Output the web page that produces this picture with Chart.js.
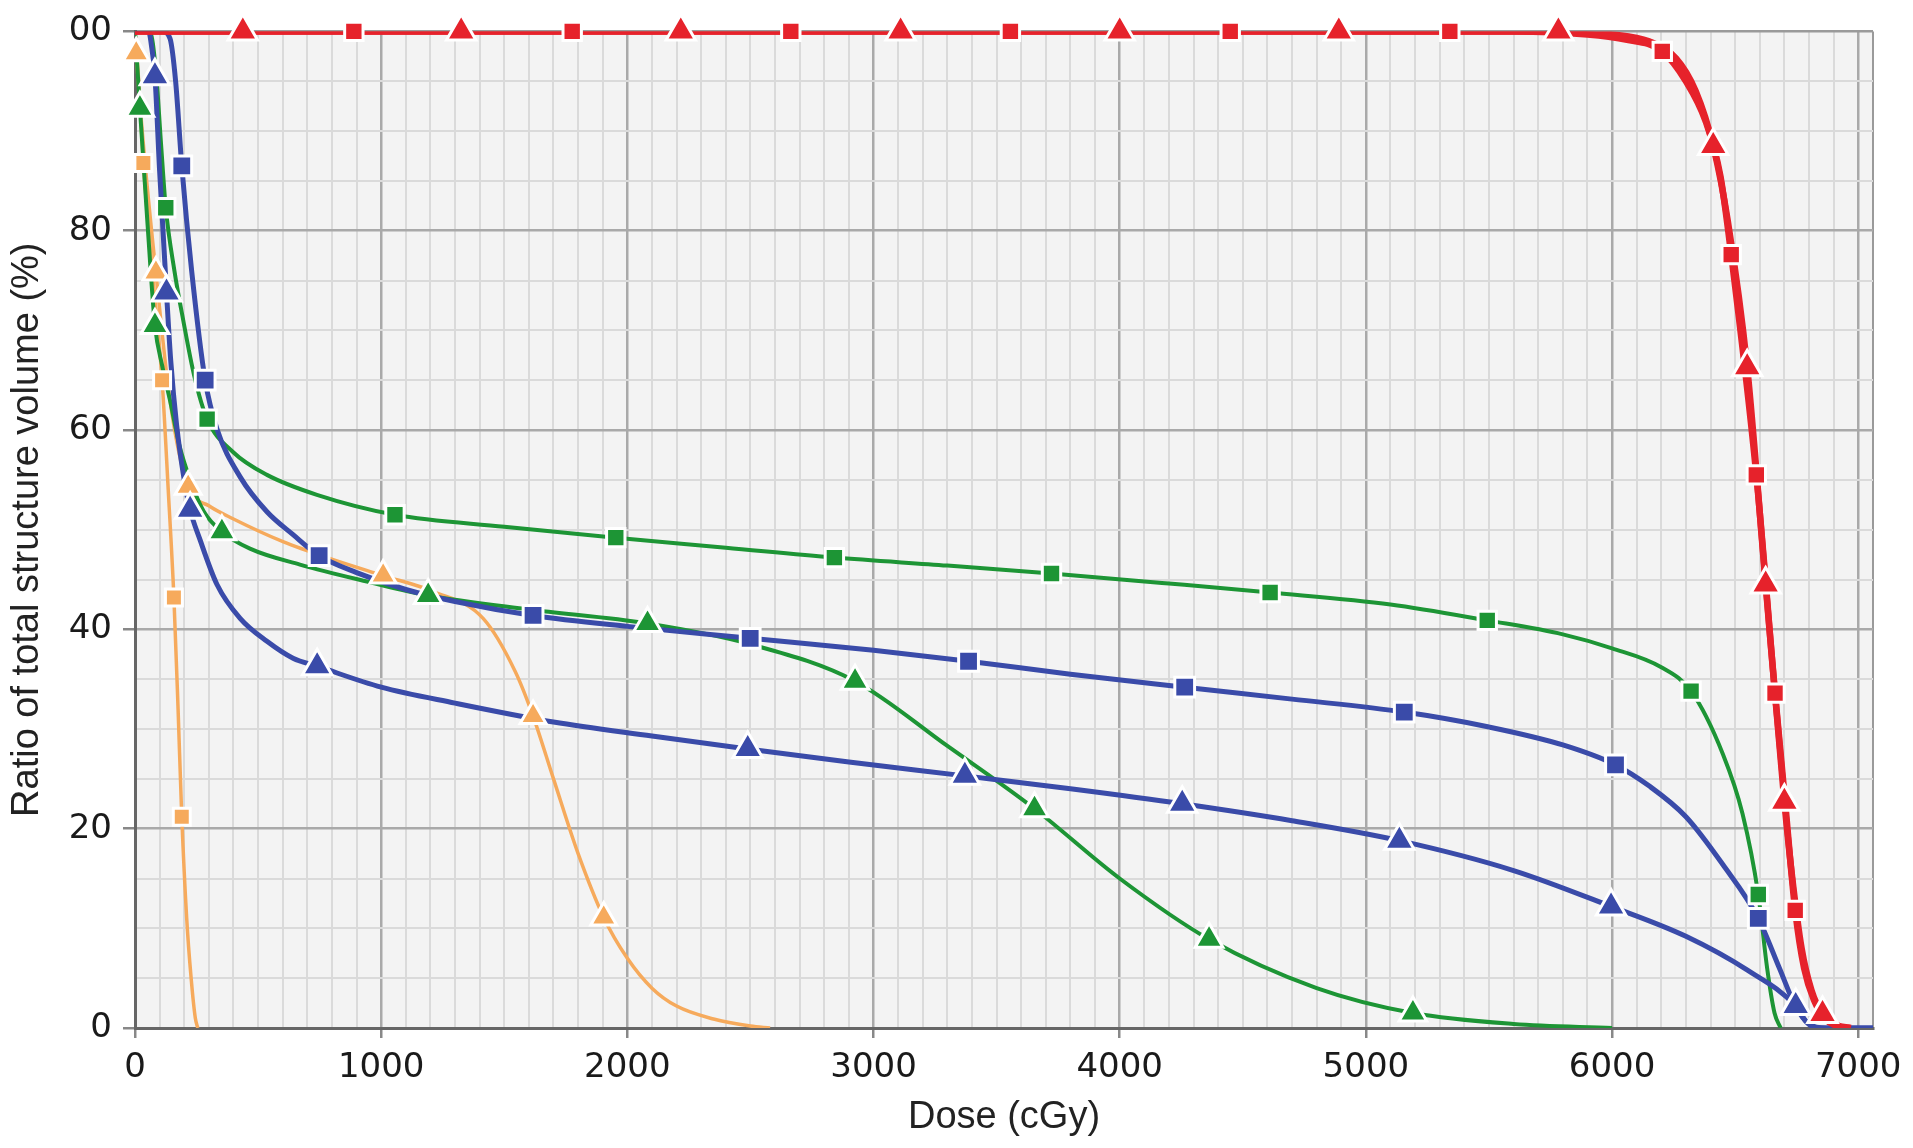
<!DOCTYPE html>
<html>
<head>
<meta charset="utf-8">
<script src="https://cdn.jsdelivr.net/npm/chart.js@4.4.0/dist/chart.umd.min.js"></script>
<style>
  html, body { margin: 0; padding: 0; background: #fff; }
  #wrap { width: 1913px; height: 1148px; position: relative; }
</style>
</head>
<body>
<div id="wrap"><canvas id="dvh"></canvas></div>
<script>
// Axis labels
const xTickValues = [0, 1000, 2000, 3000, 4000, 5000, 6000, 7000];
const yTickValues = [0, 20, 40, 60, 80, 100];
const yTickLabels = ['0', '20', '40', '60', '80', '00'];
const xMax = 7060;

// Curves: [dose cGy, volume %]
const redSquareLine = [[0,100],[5600,100],[5900,99.7],[6050,99.2],[6204,98],[6300,95],[6380,91],[6440,85.5],[6484,77.6],[6586,55.5],[6662,33.6],[6700,23.5],[6744,11.8],[6780,6],[6820,2.8],[6870,0.8],[6940,0]];
const redSquareMarks = [[889,100],[1776,100],[2664,100],[3556,100],[4449,100],[5341,100],[6204,98],[6484,77.6],[6586,55.5],[6662,33.6],[6744,11.8]];

const redTriangleLine = [[0,100],[5800,100],[6000,99.7],[6150,99],[6260,97.3],[6340,94],[6411,88.5],[6470,81],[6549,66.3],[6624,44.5],[6700,22.7],[6730,15.5],[6770,8],[6810,3.8],[6855,1.4],[6910,0.3],[6970,0]];
const redTriangleMarks = [[438,100],[1325,100],[2217,100],[3110,100],[4000,100],[4890,100],[5782,100],[6411,88.5],[6549,66.3],[6624,44.5],[6700,22.7],[6855,1.4]];

const blueSquareLine = [[0,100],[110,100],[142,99.3],[165,95],[190,86.5],[230,76],[285,65],[333,60.1],[427,55.3],[536,51.8],[642,49.5],[748,47.4],[900,45.7],[1100,44],[1300,42.8],[1617,41.4],[2000,40.3],[2499,39.1],[3000,37.9],[3386,36.8],[3800,35.5],[4264,34.2],[4700,33],[5156,31.7],[5500,30.2],[5800,28.4],[6014,26.4],[6150,24.3],[6300,21.2],[6450,16.4],[6594,11],[6680,6],[6745,2.2],[6800,0.4],[6870,0],[7060,0]];
const blueSquareMarks = [[190,86.5],[285,65],[748,47.4],[1617,41.4],[2499,39.1],[3386,36.8],[4264,34.2],[5156,31.7],[6014,26.4],[6594,11]];

const blueTriangleLine = [[0,100],[55,100],[70,98],[81,95.5],[100,86],[128,73.8],[145,67],[169,60.5],[200,55],[224,52],[264,49],[333,44.5],[427,41.1],[536,38.8],[642,37.1],[740,36.3],[1000,34.2],[1300,32.6],[1700,30.7],[2100,29.3],[2489,28],[2900,26.7],[3371,25.3],[3800,24],[4254,22.5],[4700,20.8],[5136,18.8],[5600,15.8],[5996,12.2],[6300,9.2],[6550,5.8],[6746,2.2],[6790,0.6],[6830,0],[7060,0]];
const blueTriangleMarks = [[81,95.5],[128,73.8],[224,52],[740,36.3],[2489,28],[3371,25.3],[4254,22.5],[5136,18.8],[5996,12.2],[6746,2.2]];

const greenSquareLine = [[0,100],[60,100],[85,96],[105,89],[125,82.3],[160,76],[196,71],[240,65.5],[293,61.1],[398,57.8],[536,55.5],[739,53.5],[1056,51.5],[1500,50.3],[1953,49.2],[2400,48.2],[2841,47.2],[3300,46.4],[3723,45.6],[4200,44.6],[4611,43.7],[5100,42.5],[5493,40.9],[5800,39.5],[6000,38.1],[6200,36.2],[6321,33.8],[6450,27.5],[6530,21.5],[6594,13.4],[6630,6],[6660,1.5],[6685,0]];
const greenSquareMarks = [[125,82.3],[293,61.1],[1056,51.5],[1953,49.2],[2841,47.2],[3723,45.6],[4611,43.7],[5493,40.9],[6321,33.8],[6594,13.4]];

const greenTriangleLine = [[0,100],[8,97],[20,92.3],[50,81],[81,70.5],[110,66.5],[142,63],[180,58.5],[224,55],[280,51.8],[353,49.8],[467,48.1],[670,46.5],[942,44.8],[1191,43.4],[1600,42],[2082,40.6],[2500,38.5],[2925,34.8],[3300,28.3],[3654,22],[4000,15],[4363,8.9],[4800,4],[5191,1.5],[5600,0.4],[6000,0]];
const greenTriangleMarks = [[20,92.3],[81,70.5],[353,49.8],[1191,43.4],[2082,40.6],[2925,34.8],[3654,22],[4363,8.9],[5191,1.5]];

const orangeSquareLine = [[0,100],[15,95],[34,86.8],[70,76],[110,65],[135,54],[158,43.2],[175,32],[190,21.2],[210,11],[228,5],[245,1],[255,0]];
const orangeSquareMarks = [[34,86.8],[110,65],[158,43.2],[190,21.2]];

const orangeTriangleLine = [[0,100],[5,97.8],[40,87],[85,75.8],[142,63],[216,54.3],[300,52.4],[398,51.1],[601,48.8],[805,47],[1008,45.4],[1211,43.8],[1414,41.1],[1544,35.8],[1617,31.3],[1700,25],[1800,17.5],[1904,11.1],[2000,7],[2100,4],[2200,2.2],[2350,0.9],[2500,0.2],[2580,0]];
const orangeTriangleMarks = [[5,97.8],[85,75.8],[216,54.3],[1008,45.4],[1617,31.3],[1904,11.1]];

const RED = '#e6222b', BLUE = '#3a4ba9', GREEN = '#1d9535', ORANGE = '#f6aa5c';

const toXY = arr => arr.map(p => ({ x: p[0], y: p[1] }));

function curve(points, color, width, order) {
    return {
        data: toXY(points),
        borderColor: color,
        borderWidth: width,
        pointRadius: 0,
        fill: false,
        cubicInterpolationMode: 'monotone',
        order: order
    };
}

function marks(points, color, style, radius) {
    return {
        data: toXY(points),
        showLine: false,
        pointStyle: style,
        pointRadius: radius,
        pointBackgroundColor: color,
        pointBorderColor: '#ffffff',
        pointBorderWidth: 3,
        clip: false,
        order: 0
    };
}

// plot area background
const plotBg = {
    id: 'plotBg',
    beforeDraw(chart) {
        const { ctx, chartArea: a } = chart;
        ctx.save();
        ctx.fillStyle = '#f3f3f3';
        ctx.fillRect(a.left, a.top, a.right - a.left, a.bottom - a.top);
        ctx.restore();
    }
};

const tickFont = { family: 'DejaVu Sans', size: 34 };
const titleFont = { family: 'Liberation Sans', size: 38 };

new Chart(document.getElementById('dvh'), {
    type: 'line',
    data: {
        datasets: [
            marks(redSquareMarks, RED, 'rect', 13),
            marks(redTriangleMarks, RED, 'triangle', 17),
            marks(blueSquareMarks, BLUE, 'rect', 14),
            marks(blueTriangleMarks, BLUE, 'triangle', 17),
            marks(greenSquareMarks, GREEN, 'rect', 13),
            marks(greenTriangleMarks, GREEN, 'triangle', 16),
            marks(orangeSquareMarks, ORANGE, 'rect', 12),
            marks(orangeTriangleMarks, ORANGE, 'triangle', 15),
            curve(redSquareLine, RED, 6.5, 1),
            curve(redTriangleLine, RED, 6.5, 1),
            curve(blueSquareLine, BLUE, 5, 2),
            curve(blueTriangleLine, BLUE, 5, 2),
            curve(greenSquareLine, GREEN, 4, 3),
            curve(greenTriangleLine, GREEN, 4, 3),
            curve(orangeSquareLine, ORANGE, 3.5, 4),
            curve(orangeTriangleLine, ORANGE, 3.5, 4)
        ]
    },
    options: {
        responsive: true,
        maintainAspectRatio: false,
        devicePixelRatio: 1,
        animation: false,
        layout: { padding: { top: 27, right: 40, left: 0, bottom: 0 } },
        plugins: { legend: { display: false }, tooltip: { enabled: false } },
        scales: {
            x: {
                type: 'linear',
                min: 0,
                max: xMax,
                afterFit: s => { s.height = 120; },
                afterBuildTicks: s => {
                    const t = [];
                    for (let v = 0; v <= 7000; v += 100) t.push({ value: v });
                    t.push({ value: xMax });
                    s.ticks = t;
                },
                ticks: {
                    autoSkip: false,
                    maxRotation: 0,
                    padding: 10,
                    color: '#1a1a1a',
                    font: tickFont,
                    callback: v => xTickValues.includes(v) ? String(v) : ''
                },
                grid: {
                    color: c => c.tick.value > 7000 ? '#9a9a9a' : (c.tick.value % 1000 === 0 ? '#a9a9a9' : '#dadada'),
                    lineWidth: c => c.tick.value % 1000 === 0 ? 2.5 : 2,
                    tickLength: 10,
                    tickColor: c => xTickValues.includes(c.tick.value) ? '#888' : 'rgba(0,0,0,0)'
                },
                border: { color: '#666', width: 3 },
                title: { display: true, text: 'Dose (cGy)', color: '#222', font: titleFont, padding: { top: 0, bottom: 8 } }
            },
            y: {
                min: 0,
                max: 100,
                afterFit: s => { s.width = 135; },
                ticks: {
                    stepSize: 5,
                    autoSkip: false,
                    padding: 11,
                    color: '#1a1a1a',
                    font: tickFont,
                    callback: v => {
                        const i = yTickValues.indexOf(v);
                        return i >= 0 ? yTickLabels[i] : '';
                    }
                },
                grid: {
                    color: c => c.tick.value === 100 ? '#9a9a9a' : (c.tick.value % 20 === 0 ? '#a9a9a9' : '#dadada'),
                    lineWidth: c => c.tick.value % 20 === 0 ? 2.5 : 2,
                    tickLength: 12,
                    tickColor: c => yTickValues.includes(c.tick.value) ? '#888' : 'rgba(0,0,0,0)'
                },
                border: { color: '#666', width: 3 },
                title: { display: true, text: 'Ratio of total structure volume (%)', color: '#222', font: titleFont, padding: { top: 5, bottom: 0 } }
            }
        }
    },
    plugins: [plotBg]
});
</script>
</body>
</html>
